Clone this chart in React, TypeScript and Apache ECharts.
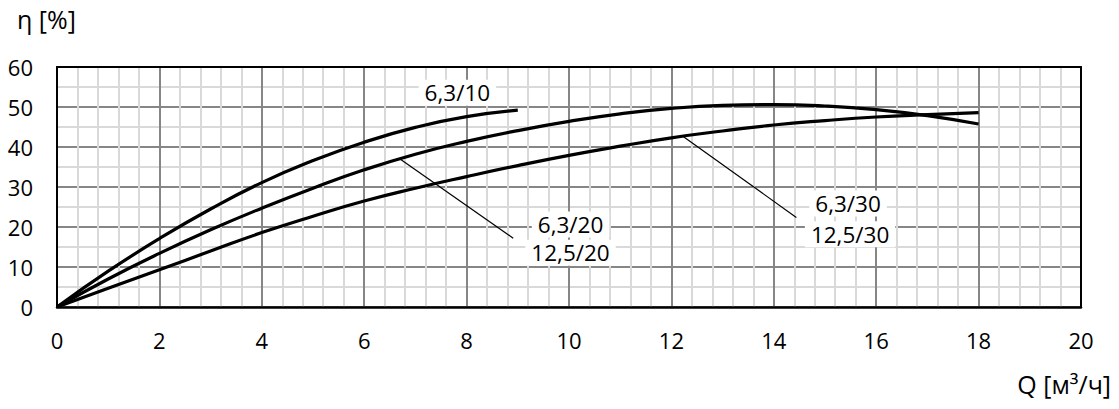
import React, { useEffect, useRef } from "react";
import * as echarts from "echarts";

// Q [m3/h]
const q10 = [0, 1, 2, 3, 4, 5, 6, 7, 8, 9];
const eta10 = [0, 8.95, 17.1, 24.5, 31.1, 36.6, 41.2, 44.9, 47.6, 49.2];

const q20 = [0, 1, 2, 3, 4, 5, 6, 7, 8, 9, 10, 11, 12, 13, 14, 15, 16, 17, 18];
const eta20 = [0, 7, 13.4, 19.3, 24.7, 29.7, 34.3, 38.2, 41.4, 44.1, 46.4, 48.3, 49.65, 50.4, 50.6, 50.25, 49.35, 47.85, 45.75];

const q30 = [0, 1, 2, 3, 4, 5, 6, 7, 8, 9, 10, 11, 12, 13, 14, 15, 16, 17, 18];
const eta30 = [0, 4.7, 9.3, 14.0, 18.6, 22.7, 26.5, 29.7, 32.6, 35.35, 37.9, 40.2, 42.3, 44.0, 45.5, 46.6, 47.5, 48.1, 48.6];

// annotation labels (one per line)
const labelTexts = ["6,3/10", "6,3/20", "12,5/20", "6,3/30", "12,5/30"];
const labelX = [7.82, 10.03, 10.03, 15.45, 15.49];
const labelY = [53.55, 20.6, 13.55, 25.9, 18.2];

// leader lines from curve to label
const leader20 = [[6.7, 37.0], [8.91, 17.2]];
const leader30 = [[12.23, 42.6], [14.44, 22.4]];

const xTicks = { min: 0, max: 20, interval: 2 };
const yTicks = { min: 0, max: 60, interval: 10 };

const FONT = "Open Sans";

export default function App() {
  const ref = useRef<HTMLDivElement>(null);
  useEffect(() => {
    if (!ref.current) return;
    const chart = echarts.init(ref.current, null, { renderer: "svg" });
    const zip = (xs: number[], ys: number[]) => xs.map((x, i) => [x, ys[i]]);
    const curve = (data: number[][]) => ({
      type: "line",
      data,
      smooth: 0.5,
      showSymbol: false,
      symbol: "none",
      lineStyle: { color: "#000", width: 3.2 },
      z: 5,
      silent: true,
    });
    const leader = (data: number[][]) => ({
      type: "line",
      data,
      showSymbol: false,
      symbol: "none",
      lineStyle: { color: "#000", width: 1.2 },
      z: 6,
      silent: true,
    });
    const labelStyle = {
      show: true,
      position: "inside",
      fontFamily: FONT,
      fontSize: 22.5,
      lineHeight: 26,
      color: "#000",
      opacity: 1,
      textBorderWidth: 0,
      backgroundColor: "#fff",
      padding: [0, 6],
      align: "center",
      verticalAlign: "middle",
    };
    chart.setOption({
      animation: false,
      grid: { left: 57, right: 38, top: 67, bottom: 102 },
      xAxis: [
        {
          type: "value",
          ...xTicks,
          axisLine: { show: true, onZero: false, lineStyle: { color: "#000", width: 2.5 } },
          axisTick: { show: false },
          axisLabel: { fontFamily: FONT, fontSize: 22, color: "#000", margin: 22 },
          splitLine: { show: true, lineStyle: { color: "#868686", width: 2 } },
          minorTick: { show: false, splitNumber: 5 },
          minorSplitLine: { show: true, lineStyle: { color: "#d9d9d9", width: 2 } },
        },
        {
          type: "value",
          position: "top",
          ...xTicks,
          axisLine: { show: true, onZero: false, lineStyle: { color: "#000", width: 2 } },
          axisTick: { show: false },
          axisLabel: { show: false },
          splitLine: { show: false },
        },
      ],
      yAxis: [
        {
          type: "value",
          ...yTicks,
          axisLine: { show: true, onZero: false, lineStyle: { color: "#000", width: 2 } },
          axisTick: { show: false },
          axisLabel: { fontFamily: FONT, fontSize: 22, color: "#000", margin: 24 },
          splitLine: { show: true, lineStyle: { color: "#868686", width: 2 } },
          minorTick: { show: false, splitNumber: 2 },
          minorSplitLine: { show: true, lineStyle: { color: "#d9d9d9", width: 2 } },
        },
        {
          type: "value",
          position: "right",
          ...yTicks,
          axisLine: { show: true, onZero: false, lineStyle: { color: "#000", width: 2 } },
          axisTick: { show: false },
          axisLabel: { show: false },
          splitLine: { show: false },
        },
      ],
      series: [
        curve(zip(q10, eta10)),
        curve(zip(q20, eta20)),
        curve(zip(q30, eta30)),
        leader(leader20),
        leader(leader30),
        {
          type: "scatter",
          data: labelX.map((x, i) => ({
            value: [x, labelY[i]],
            label: { ...labelStyle, formatter: labelTexts[i] },
          })),
          symbolSize: 1,
          itemStyle: { color: "rgba(0,0,0,0)" },
          z: 10,
          silent: true,
          emphasis: { disabled: true },
          label: labelStyle,
        },
      ],
      graphic: [
        {
          type: "text",
          left: 17,
          top: 6,
          style: { text: "η [%]", fontFamily: FONT, fontSize: 25, fill: "#000" },
        },
        {
          type: "text",
          right: 8,
          top: 371,
          style: { text: "Q [м³/ч]", fontFamily: FONT, fontSize: 25, fill: "#000" },
        },
      ],
    });
    return () => chart.dispose();
  }, []);
  return (
    <div
      ref={ref}
      style={{ position: "fixed", left: 0, top: 0, width: 1119, height: 409, background: "#fff" }}
    />
  );
}
